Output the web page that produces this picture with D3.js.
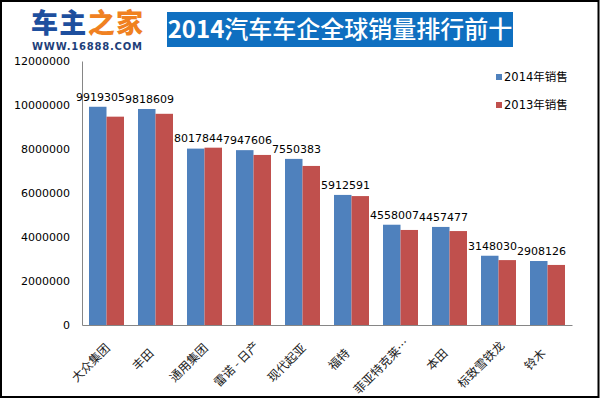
<!DOCTYPE html>
<html>
<head>
<meta charset="utf-8">
<script src="https://cdn.jsdelivr.net/npm/d3@7"></script>
<style>
  body { margin: 0; background: #fff; }
  svg { display: block; }
</style>
</head>
<body>
<div id="chart-area"></div>
<script>
// data
const categories = ['大众集团', '丰田', '通用集团', '雷诺 - 日产', '现代起亚', '福特', '菲亚特克莱…', '本田', '标致雪铁龙', '铃木'];
const seriesNames = ['2014年销售', '2013年销售'];
const sales2014 = [9919305, 9818609, 8017844, 7947606, 7550383, 5912591, 4558007, 4457477, 3148030, 2908126];
const sales2013 = [9470000, 9600000, 8060000, 7730000, 7230000, 5860000, 4320000, 4270000, 2950000, 2730000];
const yTicks = [0, 2000000, 4000000, 6000000, 8000000, 10000000, 12000000];
const titleYear = '2014';
const titleRest = '汽车车企全球销量排行前十';

const colors = ['#4F81BD', '#C0504D'];
const numFont = '"DejaVu Sans", "Noto Sans CJK SC", sans-serif';
const cjkFont = '"Noto Sans CJK SC", sans-serif';

const W = 600, H = 399;
const svg = d3.select('#chart-area')
  .append('svg')
  .attr('width', W)
  .attr('height', H);

// outer frame
svg.append('rect')
  .attr('x', 1).attr('y', 1)
  .attr('width', W - 2.5).attr('height', H - 3)
  .attr('fill', '#fff')
  .attr('stroke', '#000')
  .attr('stroke-width', 2);

// logo
const logo = svg.append('text')
  .attr('x', 31).attr('y', 33)
  .attr('font-family', cjkFont)
  .attr('font-size', '27px')
  .attr('font-weight', 900)
  .attr('textLength', 112);
logo.append('tspan').attr('fill', '#1E4F9E').text('车主');
logo.append('tspan').attr('fill', '#F08121').text('之家');

svg.append('text')
  .attr('x', 32).attr('y', 50)
  .attr('font-family', '"DejaVu Sans", sans-serif')
  .attr('font-size', '10px')
  .attr('font-weight', 'bold')
  .attr('fill', '#1E3F7A')
  .attr('textLength', 110)
  .text('WWW.16888.COM');

// title box
svg.append('rect')
  .attr('x', 167).attr('y', 12)
  .attr('width', 346).attr('height', 35)
  .attr('fill', '#0F6FC0');

const title = svg.append('text')
  .attr('x', 340).attr('y', 38)
  .attr('text-anchor', 'middle')
  .attr('font-family', cjkFont)
  .attr('font-size', '24px')
  .attr('fill', '#fff');
title.append('tspan').attr('font-weight', 'bold').text(titleYear);
title.append('tspan').attr('font-weight', 500).text(titleRest);

// scales
const margin = { left: 82, right: 28, top: 61, bottom: 74 };
const x = d3.scaleBand()
  .domain(categories)
  .range([margin.left, W - margin.right])
  .paddingInner(0)
  .paddingOuter(0);

const x1 = d3.scaleBand()
  .domain(seriesNames)
  .range([7, x.bandwidth() - 7])
  .padding(0);

const y = d3.scaleLinear()
  .domain([0, 12000000])
  .range([H - margin.bottom, margin.top]);

// y axis labels
const yAxis = d3.axisLeft(y)
  .tickValues(yTicks)
  .tickSize(0)
  .tickPadding(12)
  .tickFormat(d3.format('d'));

const gy = svg.append('g')
  .attr('transform', 'translate(' + margin.left + ',0)')
  .call(yAxis);
gy.select('.domain').attr('stroke', '#868686');
gy.selectAll('text')
  .attr('font-family', numFont)
  .attr('font-size', '11px')
  .attr('fill', '#000');

// bars
const rows = categories.map((c, i) => ({ cat: c, values: [sales2014[i], sales2013[i]] }));

const groups = svg.selectAll('g.group')
  .data(rows)
  .enter()
  .append('g')
  .attr('class', 'group')
  .attr('transform', d => 'translate(' + x(d.cat) + ',0)');

groups.selectAll('rect')
  .data(d => d.values.map((v, k) => ({ name: seriesNames[k], v: v, k: k })))
  .enter()
  .append('rect')
  .attr('x', d => x1(d.name))
  .attr('y', d => y(d.v))
  .attr('width', x1.bandwidth())
  .attr('height', d => y(0) - y(d.v))
  .attr('fill', d => colors[d.k]);

// x axis line
const xAxis = d3.axisBottom(x).tickSize(0).tickFormat('');
svg.append('g')
  .attr('transform', 'translate(0,' + y(0) + ')')
  .call(xAxis)
  .select('.domain')
  .attr('stroke', '#868686');

// value labels (2014)
groups.append('text')
  .attr('x', x.bandwidth() / 2 - 6)
  .attr('y', d => y(d3.max(d.values)) - 6)
  .attr('text-anchor', 'middle')
  .attr('font-family', numFont)
  .attr('font-size', '11px')
  .attr('fill', '#000')
  .text(d => d.values[0]);

/* category labels, rotated -45deg; like excel the anchor sits
   part way along the text, so longer names reach further up */
svg.selectAll('text.cat')
  .data(categories)
  .enter()
  .append('text')
  .attr('class', 'cat')
  .attr('transform', d => 'translate(' + (x(d) + x.bandwidth() / 2 - 6) + ',359) rotate(-45)')
  .attr('text-anchor', 'end')
  .attr('font-family', cjkFont)
  .attr('font-size', '12px')
  .attr('fill', '#222')
  .text(d => d)
  .attr('x', function() { return this.getComputedTextLength() * 0.3; });

// legend
const legend = svg.selectAll('g.legend')
  .data(seriesNames)
  .enter()
  .append('g')
  .attr('class', 'legend')
  .attr('transform', (d, i) => 'translate(496,' + (74 + i * 28) + ')');

legend.append('rect')
  .attr('width', 6).attr('height', 6)
  .attr('fill', (d, i) => colors[i]);

legend.append('text')
  .attr('x', 8).attr('y', 7)
  .attr('font-family', numFont)
  .attr('font-size', '11.5px')
  .attr('fill', '#000')
  .text(d => d);
</script>
</body>
</html>
